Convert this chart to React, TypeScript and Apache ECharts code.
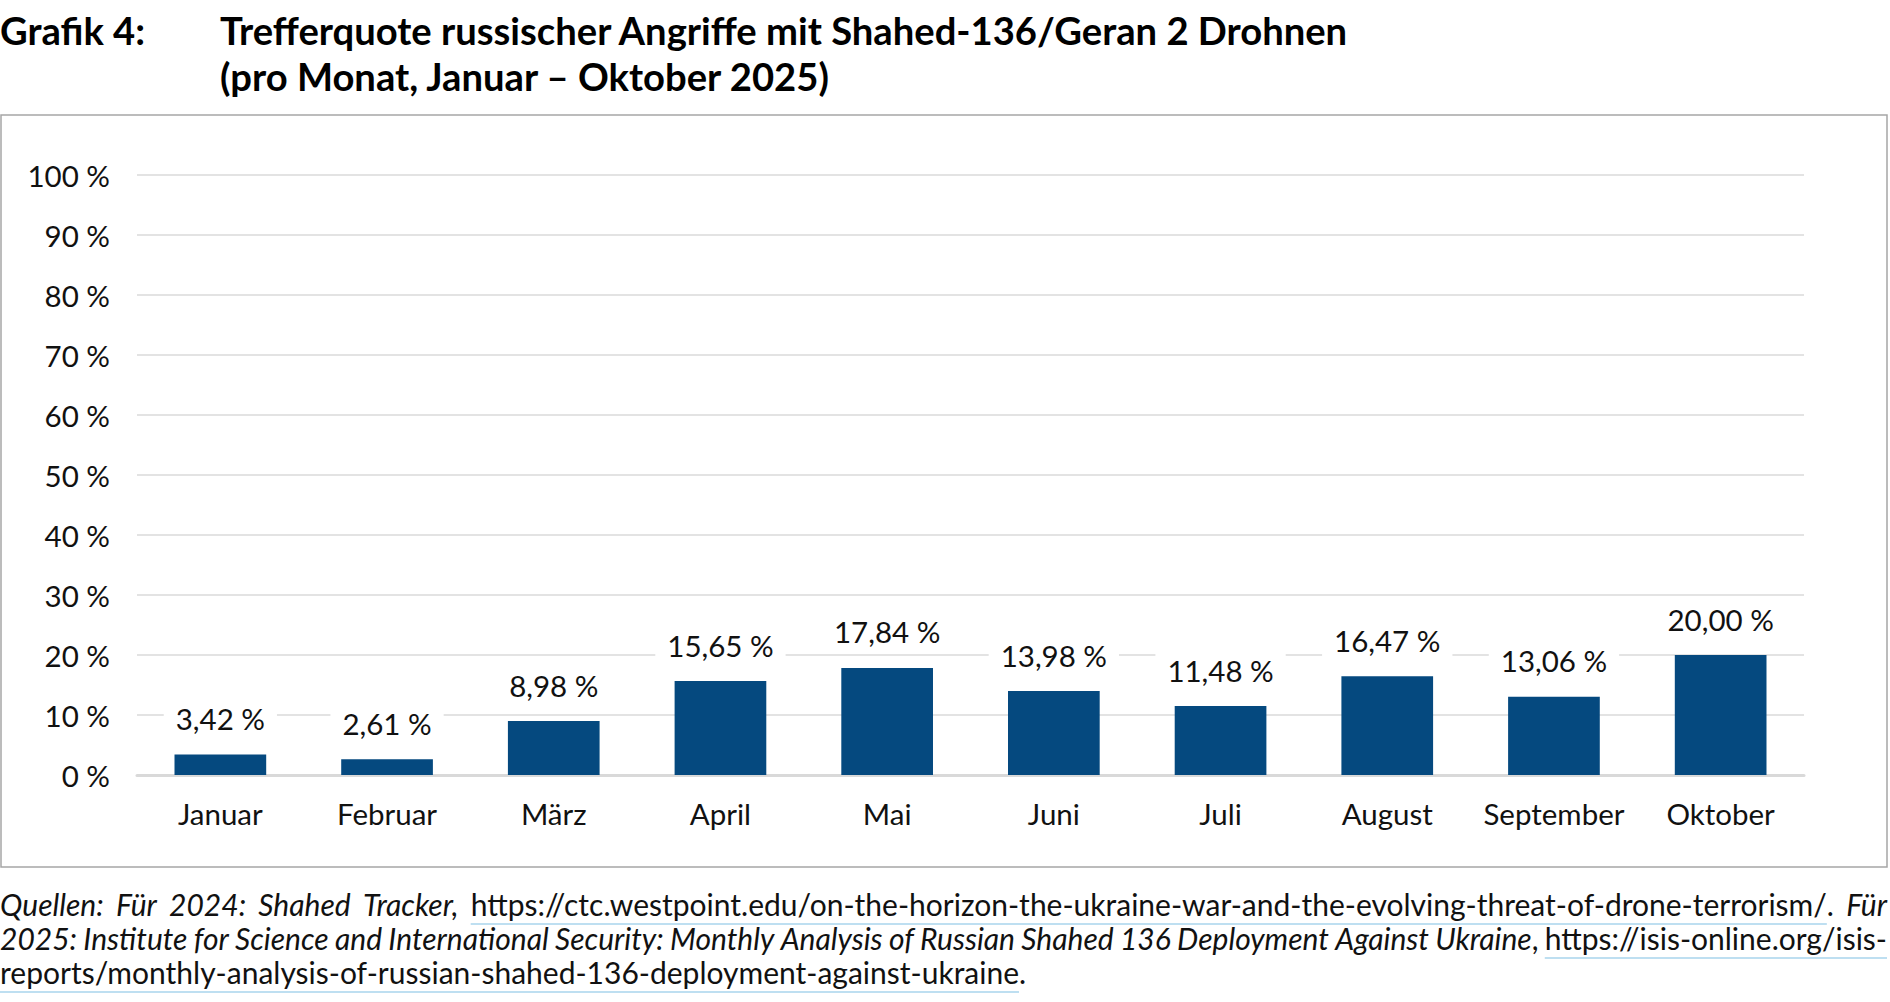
import React, { useEffect, useRef } from "react";
import * as echarts from "echarts";

const categories = ["Januar", "Februar", "März", "April", "Mai", "Juni", "Juli", "August", "September", "Oktober"];
const hitRates = [3.42, 2.61, 8.98, 15.65, 17.84, 13.98, 11.48, 16.47, 13.06, 20.0];
const yMin = 0;
const yMax = 100;
const yInterval = 10;

const titleLabel = "Grafik 4:";
const titleLines = [
  "Trefferquote russischer Angriffe mit Shahed-136/Geran 2 Drohnen",
  "(pro Monat, Januar – Oktober 2025)",
];

type Run = { t: string; i?: boolean; u?: boolean };
const sourceLines: { runs: Run[]; justify: boolean }[] = [
  {
    runs: [
      { t: "Quellen: Für 2024: Shahed Tracker,", i: true },
      { t: " " },
      { t: "https://ctc.westpoint.edu/on-the-horizon-the-ukraine-war-and-the-evolving-threat-of-drone-terrorism/", u: true },
      { t: "." },
      { t: " Für", i: true },
    ],
    justify: true,
  },
  {
    runs: [
      { t: "2025: Institute for Science and International Security: Monthly Analysis of Russian Shahed 136 Deployment Against Ukraine", i: true },
      { t: ", " },
      { t: "https://isis-online.org/isis-", u: true },
    ],
    justify: true,
  },
  {
    runs: [
      { t: "reports/monthly-analysis-of-russian-shahed-136-deployment-against-ukraine", u: true },
      { t: "." },
    ],
    justify: false,
  },
];

const FONT = "Lato";
const TEXT = "#111111";
const BAR = "#05497f";
const FOOT_FS = 30;
const TITLE_FS = 38.2;
const AXIS_FS = 29.5;

function buildFootnote(): any[] {
  const canvas = document.createElement("canvas");
  const ctx = canvas.getContext("2d")!;
  const fontOf = (it?: boolean) => `${it ? "italic " : ""}${FOOT_FS}px ${FONT}`;
  const measure = (s: string, it?: boolean) => {
    ctx.font = fontOf(it);
    return ctx.measureText(s).width;
  };
  const targetW = 1887;
  const baselines = [915, 949, 983];
  const els: any[] = [];
  sourceLines.forEach((line, li) => {
    const words: { t: string; i?: boolean; u?: boolean }[][] = [];
    let cur: { t: string; i?: boolean; u?: boolean }[] = [];
    line.runs.forEach((r) => {
      const parts = r.t.split(" ");
      parts.forEach((p, idx) => {
        if (idx > 0) {
          if (cur.length) words.push(cur);
          cur = [];
        }
        if (p.length) cur.push({ t: p, i: r.i, u: r.u });
      });
    });
    if (cur.length) words.push(cur);
    const widths = words.map((w) => w.reduce((s, p) => s + measure(p.t, p.i), 0));
    const total = widths.reduce((a, b) => a + b, 0);
    const gap = line.justify && words.length > 1 ? (targetW - total) / (words.length - 1) : measure(" ");
    let x = 0;
    const base = baselines[li];
    const yMid = base - FOOT_FS * 0.36;
    words.forEach((w, wi) => {
      w.forEach((p) => {
        const pw = measure(p.t, p.i);
        els.push({
          type: "text",
          x,
          y: yMid,
          silent: true,
          style: {
            text: p.t,
            fontFamily: FONT,
            fontSize: FOOT_FS,
            fontStyle: p.i ? "italic" : "normal",
            fill: TEXT,
            align: "left",
            verticalAlign: "middle",
          },
        });
        if (p.u) {
          els.push({
            type: "line",
            silent: true,
            shape: { x1: x, y1: base + 9, x2: x + pw, y2: base + 9 },
            style: { stroke: "#a9d4ec", lineWidth: 1.6 },
          });
        }
        x += pw;
      });
      if (wi < words.length - 1) x += gap;
    });
  });
  return els;
}

export default function App() {
  const ref = useRef<HTMLDivElement>(null);
  useEffect(() => {
    document.body.style.margin = "0";
    const chart = echarts.init(ref.current!, undefined, { renderer: "svg" });
    const titleStyle = (t: string) => ({
      text: t,
      fontFamily: FONT,
      fontSize: TITLE_FS,
      fontWeight: "bold",
      fill: "#000",
      align: "left",
      verticalAlign: "middle",
    });
    const graphic: any[] = [
      { type: "text", x: 0, y: 30, silent: true, style: titleStyle(titleLabel) },
      { type: "text", x: 220, y: 30, silent: true, style: titleStyle(titleLines[0]) },
      { type: "text", x: 220, y: 76, silent: true, style: titleStyle(titleLines[1]) },
      {
        type: "rect",
        silent: true,
        shape: { x: 1, y: 115, width: 1886, height: 752 },
        style: { fill: "none", stroke: "#a6a6a6", lineWidth: 1.5 },
      },
      ...buildFootnote(),
    ];
    chart.setOption({
      animation: false,
      grid: { left: 137, right: 86, top: 175, bottom: 227, containLabel: false },
      xAxis: {
        type: "category",
        data: categories,
        axisLine: { lineStyle: { color: "#d9d9d9", width: 3 } },
        axisTick: { show: false },
        axisLabel: { interval: 0, fontFamily: FONT, fontSize: AXIS_FS, color: TEXT, margin: 23 },
      },
      yAxis: {
        type: "value",
        min: yMin,
        max: yMax,
        interval: yInterval,
        axisLine: { show: false },
        axisTick: { show: false },
        axisLabel: { formatter: "{value} %", fontFamily: FONT, fontSize: AXIS_FS, color: TEXT, margin: 27 },
        splitLine: { lineStyle: { color: "#dadada", width: 1.5 } },
      },
      series: [
        {
          type: "bar",
          data: hitRates,
          barWidth: "55%",
          itemStyle: { color: BAR },
          label: {
            show: true,
            position: "top",
            distance: 19,
            formatter: (p: any) => p.value.toFixed(2).replace(".", ",") + " %",
            fontFamily: FONT,
            fontSize: AXIS_FS,
            color: TEXT,
            backgroundColor: "#ffffff",
            padding: [2, 12],
          },
        },
      ],
      graphic,
    });
    return () => chart.dispose();
  }, []);
  return <div ref={ref} style={{ width: 1890, height: 1002 }} />;
}
